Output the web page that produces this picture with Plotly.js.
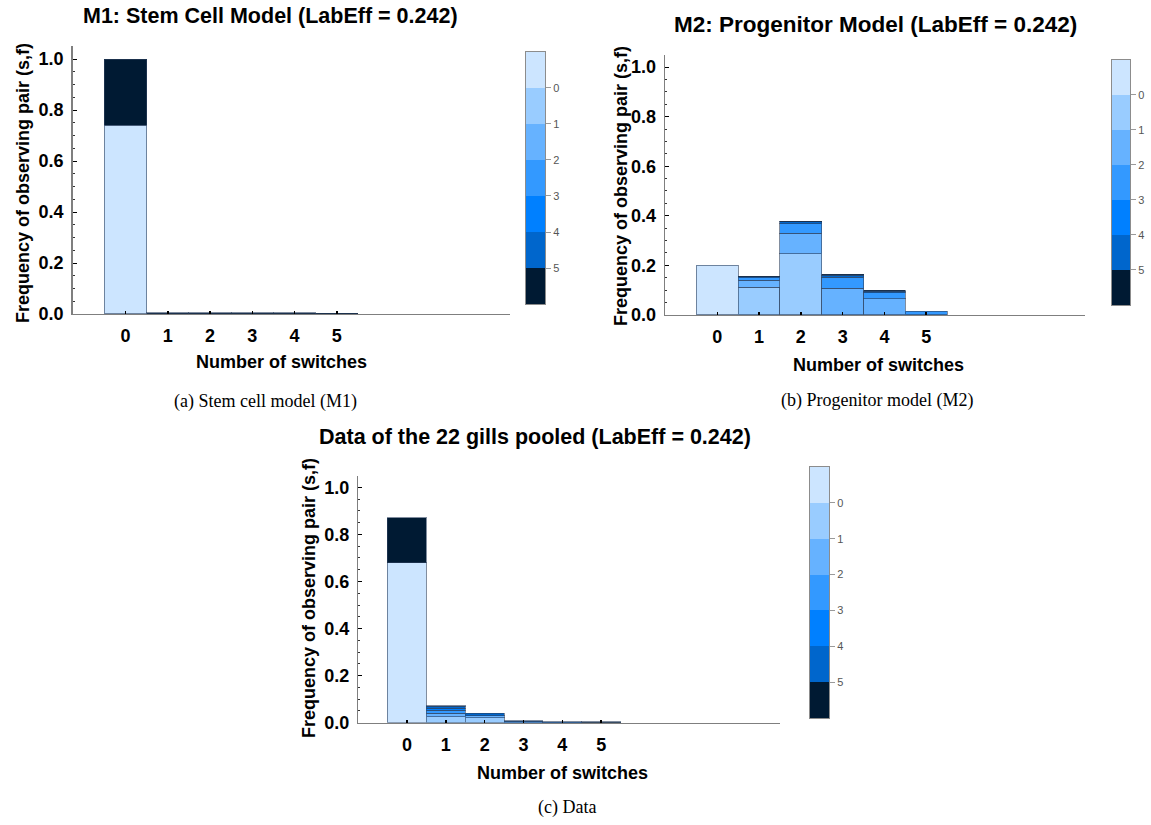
<!DOCTYPE html>
<html>
<head>
<meta charset="utf-8">
<script src="https://cdn.plot.ly/plotly-3.0.1.min.js"></script>
<style>html,body{margin:0;padding:0;background:#fff;}#chart{width:1151px;height:825px;}</style>
</head>
<body>
<div id="chart"></div>
<script>
// ---- data ----
const switches = [0, 1, 2, 3, 4, 5];
const levelColors = ['#cce5ff', '#99ccff', '#66b2ff', '#3399ff', '#0080ff', '#0066cc', '#001a33'];
const colorbarTicks = ['0', '1', '2', '3', '4', '5'];

// M1: Stem cell model (stack levels 0..6 per number of switches)
const m1Level0 = [0.74, 0, 0, 0, 0, 0];
const m1Level1 = [0, 0, 0, 0, 0, 0];
const m1Level2 = [0, 0, 0, 0, 0, 0];
const m1Level3 = [0, 0, 0, 0, 0, 0];
const m1Level4 = [0, 0, 0, 0, 0, 0];
const m1Level5 = [0, 0, 0, 0, 0, 0];
const m1Level6 = [0.26, 0.004, 0.004, 0.004, 0.004, 0.003];

// M2: Progenitor model
const m2Level0 = [0.20, 0, 0, 0, 0, 0];
const m2Level1 = [0, 0.112, 0.246, 0, 0, 0];
const m2Level2 = [0, 0.029, 0.083, 0.108, 0.065, 0];
const m2Level3 = [0, 0.009, 0.039, 0.045, 0.024, 0.015];
const m2Level4 = [0, 0, 0, 0, 0, 0];
const m2Level5 = [0, 0.004, 0.008, 0.008, 0.007, 0];
const m2Level6 = [0, 0.002, 0.003, 0.003, 0.003, 0];

// Data of the 22 gills pooled
const dataLevel0 = [0.68, 0, 0, 0, 0, 0];
const dataLevel1 = [0, 0.025, 0.020, 0, 0, 0];
const dataLevel2 = [0, 0.015, 0.010, 0, 0, 0];
const dataLevel3 = [0, 0.012, 0, 0.003, 0, 0];
const dataLevel4 = [0, 0.010, 0, 0.003, 0.002, 0];
const dataLevel5 = [0, 0.008, 0.010, 0.003, 0.003, 0];
const dataLevel6 = [0.19, 0.003, 0, 0, 0, 0.003];

const panels = [
  {levels: [m1Level0, m1Level1, m1Level2, m1Level3, m1Level4, m1Level5, m1Level6], xa: 'x', ya: 'y'},
  {levels: [m2Level0, m2Level1, m2Level2, m2Level3, m2Level4, m2Level5, m2Level6], xa: 'x2', ya: 'y2'},
  {levels: [dataLevel0, dataLevel1, dataLevel2, dataLevel3, dataLevel4, dataLevel5, dataLevel6], xa: 'x3', ya: 'y3'}
];

const traces = [];
panels.forEach(p => {
  p.levels.forEach((vals, k) => {
    traces.push({
      type: 'bar', x: switches, y: vals.map(v => v === 0 ? null : v),
      xaxis: p.xa, yaxis: p.ya, width: 1,
      marker: {color: levelColors[k], line: {color: 'rgba(45,65,95,0.6)', width: 1}},
      showlegend: false, hoverinfo: 'x+y'
    });
  });
});

// colorbars as stacked swatches
const cbAxes = [['x4', 'y4'], ['x5', 'y5'], ['x6', 'y6']];
cbAxes.forEach(([xa, ya]) => {
  traces.push({
    type: 'bar', x: levelColors.map(() => 0), y: levelColors.map(() => 1),
    base: levelColors.map((c, i) => levelColors.length - 1 - i),
    xaxis: xa, yaxis: ya, width: 1,
    marker: {color: levelColors, line: {width: 0}},
    showlegend: false, hoverinfo: 'skip'
  });
});

const FONT = 'Liberation Sans, Arial, sans-serif';
const SERIF = 'Liberation Serif, Times New Roman, serif';

function xaxisDef(domain, range, anchor) {
  return {
    domain: domain, range: range, anchor: anchor,
    tickvals: switches, ticktext: switches.map(String),
    ticks: 'inside', ticklen: 3, tickwidth: 1.5, tickcolor: '#000',
    showline: true, linecolor: '#7f7f7f', linewidth: 1.5,
    showgrid: false, zeroline: false, ticklabelstandoff: 5,
    tickfont: {family: FONT, size: 18, color: '#000', weight: 'bold'}
  };
}
function yaxisDef(domain, anchor) {
  return {
    domain: domain, range: [0, 1.05], anchor: anchor,
    tickvals: [0, 0.2, 0.4, 0.6, 0.8, 1.0], tickformat: '.1f',
    ticks: 'inside', ticklen: 4, tickwidth: 1, tickcolor: '#000',
    minor: {dtick: 0.05, tick0: 0, ticks: 'inside', ticklen: 2, tickcolor: '#333', tickwidth: 1},
    showline: true, linecolor: '#7f7f7f', linewidth: 1.5,
    showgrid: false, zeroline: false, ticklabelstandoff: 4,
    tickfont: {family: FONT, size: 18, color: '#000', weight: 'bold'}
  };
}
function cbX(domain, anchor) {
  return {domain: domain, range: [-0.5, 0.5], anchor: anchor, showticklabels: false, ticks: '',
    showgrid: false, zeroline: false, showline: true, mirror: true, linecolor: '#8c8c8c', linewidth: 1};
}
function cbY(domain, anchor) {
  return {domain: domain, range: [0, levelColors.length], anchor: anchor, side: 'right',
    tickvals: colorbarTicks.map((t, i) => levelColors.length - 1 - i), ticktext: colorbarTicks,
    ticks: 'outside', ticklen: 5, tickcolor: '#9a9a9a', tickwidth: 1,
    showgrid: false, zeroline: false, showline: true, mirror: true, linecolor: '#8c8c8c', linewidth: 1,
    tickfont: {family: FONT, size: 11, color: '#555'}};
}

function ann(text, x, y, size, opts) {
  return Object.assign({text: text, x: x, y: y, xref: 'paper', yref: 'paper',
    xanchor: 'center', yanchor: 'middle', showarrow: false,
    font: {family: FONT, size: size, color: '#000', weight: 'bold'}}, opts || {});
}

const layout = {
  width: 1151, height: 825,
  margin: {l: 0, r: 0, t: 0, b: 0},
  paper_bgcolor: '#fff', plot_bgcolor: 'rgba(0,0,0,0)',
  barmode: 'stack', bargap: 0, showlegend: false,
  xaxis: xaxisDef([0.0632, 0.4431], [-1.25, 9.1], 'y'),
  yaxis: yaxisDef([0.6194, 0.9439], 'x'),
  xaxis2: xaxisDef([0.5778, 0.9427], [-1.25, 8.8], 'y2'),
  yaxis2: yaxisDef([0.6182, 0.9338], 'x2'),
  xaxis3: xaxisDef([0.3113, 0.6777], [-1.25, 9.6], 'y3'),
  yaxis3: yaxisDef([0.1240, 0.4236], 'x3'),
  xaxis4: cbX([0.4570, 0.4735], 'y4'), yaxis4: cbY([0.6315, 0.9370], 'x4'),
  xaxis5: cbX([0.9661, 0.9818], 'y5'), yaxis5: cbY([0.6303, 0.9273], 'x5'),
  xaxis6: cbX([0.7037, 0.7202], 'y6'), yaxis6: cbY([0.1297, 0.4339], 'x6'),
  annotations: [
    ann('M1: Stem Cell Model (LabEff = 0.242)', 270 / 1151, 1 - 16 / 825, 21.5),
    ann('M2: Progenitor Model (LabEff = 0.242)', 875 / 1151, 1 - 25 / 825, 22.5),
    ann('Data of the 22 gills pooled (LabEff = 0.242)', 535 / 1151, 1 - 437 / 825, 21.5),
    ann('Number of switches', 281 / 1151, 1 - 362 / 825, 18),
    ann('Number of switches', 878 / 1151, 1 - 365 / 825, 18),
    ann('Number of switches', 562 / 1151, 1 - 773 / 825, 18),
    ann('Frequency of observing pair (s,f)', 23 / 1151, 1 - 183 / 825, 18, {textangle: -90}),
    ann('Frequency of observing pair (s,f)', 621 / 1151, 1 - 186 / 825, 18, {textangle: -90}),
    ann('Frequency of observing pair (s,f)', 309 / 1151, 1 - 598 / 825, 18, {textangle: -90}),
    ann('(a) Stem cell model (M1)', 265 / 1151, 1 - 401 / 825, 18, {font: {family: SERIF, size: 18, color: '#000'}}),
    ann('(b) Progenitor model (M2)', 877 / 1151, 1 - 400 / 825, 18, {font: {family: SERIF, size: 18, color: '#000'}}),
    ann('(c) Data', 567 / 1151, 1 - 807 / 825, 18, {font: {family: SERIF, size: 18, color: '#000'}})
  ]
};

Plotly.newPlot('chart', traces, layout, {displayModeBar: false, staticPlot: true});
</script>
</body>
</html>
